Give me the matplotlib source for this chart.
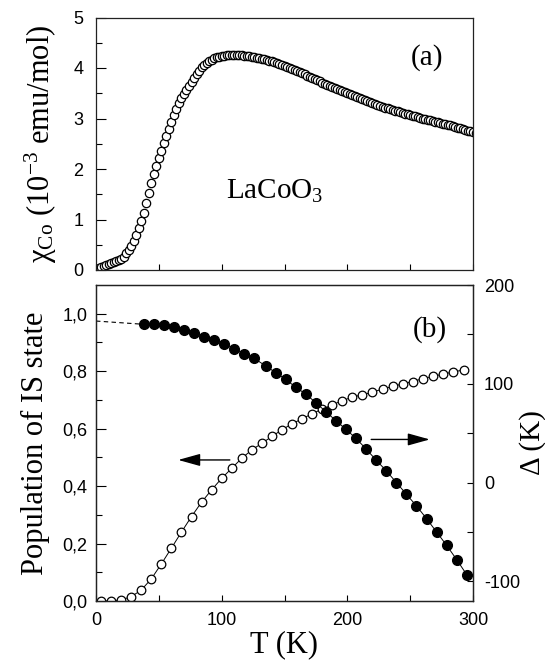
import matplotlib
matplotlib.use("Agg")
import matplotlib.pyplot as plt
from matplotlib.ticker import FixedLocator, FuncFormatter, NullFormatter

plt.rcParams['font.family'] = ['Liberation Sans', 'DejaVu Sans']
plt.rcParams['mathtext.fontset'] = 'custom'
plt.rcParams['mathtext.rm'] = 'Liberation Serif'
plt.rcParams['mathtext.it'] = 'Liberation Serif:italic'
plt.rcParams['axes.unicode_minus'] = False

# ---------------- data ----------------
# panel (a): susceptibility chi_Co (1e-3 emu/mol) vs T (K), measured every 2 K
T_chi = [0, 2, 4, 6, 8, 10, 12, 14, 16, 18, 20, 22, 24, 26, 28, 30, 32, 34, 36, 38,
         40, 42, 44, 46, 48, 50, 52, 54, 56, 58, 60, 62, 64, 66, 68, 70, 72, 74, 76, 78,
         80, 82, 84, 86, 88, 90, 92, 94, 96, 98, 100, 102, 104, 106, 108, 110, 112, 114, 116, 118,
         120, 122, 124, 126, 128, 130, 132, 134, 136, 138, 140, 142, 144, 146, 148, 150, 152, 154, 156, 158,
         160, 162, 164, 166, 168, 170, 172, 174, 176, 178, 180, 182, 184, 186, 188, 190, 192, 194, 196, 198,
         200, 202, 204, 206, 208, 210, 212, 214, 216, 218, 220, 222, 224, 226, 228, 230, 232, 234, 236, 238,
         240, 242, 244, 246, 248, 250, 252, 254, 256, 258, 260, 262, 264, 266, 268, 270, 272, 274, 276, 278,
         280, 282, 284, 286, 288, 290, 292, 294, 296, 298, 300, 302]
chi = [0.01, 0.03, 0.05, 0.07, 0.09, 0.11, 0.13, 0.15, 0.17, 0.19, 0.22, 0.26, 0.33, 0.40, 0.48, 0.57, 0.70, 0.83, 0.97, 1.13,
       1.32, 1.53, 1.72, 1.90, 2.06, 2.21, 2.36, 2.51, 2.66, 2.80, 2.94, 3.07, 3.19, 3.30, 3.40, 3.48, 3.56, 3.64, 3.72, 3.80,
       3.88, 3.95, 4.01, 4.05, 4.09, 4.13, 4.16, 4.19, 4.21, 4.22, 4.23, 4.24, 4.25, 4.255, 4.26, 4.26, 4.26, 4.255, 4.25, 4.245,
       4.24, 4.23, 4.22, 4.21, 4.20, 4.19, 4.18, 4.17, 4.16, 4.145, 4.13, 4.115, 4.10, 4.08, 4.06, 4.04, 4.02, 4.00, 3.98, 3.96,
       3.94, 3.92, 3.90, 3.875, 3.85, 3.825, 3.80, 3.78, 3.76, 3.735, 3.71, 3.685, 3.66, 3.64, 3.62, 3.60, 3.58, 3.56, 3.54, 3.52,
       3.50, 3.48, 3.46, 3.44, 3.42, 3.40, 3.38, 3.36, 3.34, 3.32, 3.30, 3.28, 3.26, 3.245, 3.23, 3.215, 3.20, 3.185, 3.17, 3.155,
       3.14, 3.125, 3.11, 3.095, 3.08, 3.065, 3.05, 3.04, 3.03, 3.015, 3.00, 2.99, 2.98, 2.965, 2.95, 2.94, 2.93, 2.915, 2.90, 2.89,
       2.88, 2.865, 2.85, 2.835, 2.82, 2.805, 2.79, 2.775, 2.76, 2.745, 2.73, 2.72]

# panel (b): population of IS state (left axis)
T_pop = [4, 12, 20, 28, 36, 44, 52, 60, 68, 76, 84, 92, 100, 108, 116, 124, 132, 140, 148, 156,
         164, 172, 180, 188, 196, 204, 212, 220, 228, 236, 244, 252, 260, 268, 276, 284, 293]
pop = [0.0, 0.0, 0.004, 0.015, 0.038, 0.077, 0.129, 0.184, 0.240, 0.294, 0.344, 0.387, 0.427, 0.462, 0.497, 0.526, 0.549, 0.573, 0.596, 0.617,
       0.634, 0.652, 0.668, 0.683, 0.697, 0.710, 0.718, 0.727, 0.738, 0.747, 0.756, 0.764, 0.774, 0.782, 0.790, 0.797, 0.805]

# panel (b): gap Delta (K) (right axis)
T_gap = [38, 46, 54, 62, 70, 78, 86, 94, 102, 110, 118, 126, 135, 143, 151, 159, 167, 175, 183, 191,
         199, 207, 215, 223, 231, 239, 247, 255, 263, 271, 279, 287, 295]
gap = [160.2, 160.5, 159.5, 157.1, 154.4, 151.0, 147.6, 144.2, 140.2, 135.1, 130.1, 125.7, 118.0, 111.3, 104.4, 96.4, 89.5, 80.7, 71.6, 62.5,
       53.7, 44.6, 33.8, 22.6, 11.8, 0.0, -11.9, -23.7, -36.5, -50.1, -63.6, -78.1, -93.3]

# extrapolation (dashed) of Delta to T = 0
T_ext = [0, 38]
gap_ext = [163.5, 160.2]

x_major = [0, 100, 200, 300]
x_minor = [50, 150, 250]
chi_major = [0, 1, 2, 3, 4, 5]
chi_minor = [0.5, 1.5, 2.5, 3.5, 4.5]
pop_major = [0.0, 0.2, 0.4, 0.6, 0.8, 1.0]
pop_minor = [0.1, 0.3, 0.5, 0.7, 0.9]
gap_major = [-100, 0, 100, 200]
gap_minor = [-50, 50, 150]

# ---------------- figure ----------------
W, H = 545, 663
fig = plt.figure(figsize=(W / 100, H / 100), dpi=100)
serif = 'Liberation Serif'
tick_fs = 13
lab_fs = 22
txt_fs = 21

L, R = 96, 473
ax1 = fig.add_axes([L / W, 1 - 270 / H, (R - L) / W, (270 - 17.5) / H])
ax2 = fig.add_axes([L / W, 1 - 601 / H, (R - L) / W, (601 - 285) / H])
ax3 = ax2.twinx()

for ax in (ax1, ax2, ax3):
    for s in ax.spines.values():
        s.set_linewidth(0.9)
        s.set_color('#222222')

# ---- panel (a)
ax1.plot(T_chi, chi, linestyle='none', marker='o', ms=6, mfc='white', mec='black', mew=0.9)
ax1.set_xlim(0, 300)
ax1.set_ylim(0, 5)
ax1.xaxis.set_major_locator(FixedLocator(x_major))
ax1.xaxis.set_minor_locator(FixedLocator(x_minor))
ax1.xaxis.set_major_formatter(NullFormatter())
ax1.yaxis.set_major_locator(FixedLocator(chi_major))
ax1.yaxis.set_minor_locator(FixedLocator(chi_minor))
ax1.tick_params(axis='x', which='both', direction='in', length=4.5, width=0.8, top=False)
ax1.tick_params(axis='y', which='major', direction='in', length=7, width=0.8, right=False,
                labelsize=tick_fs, pad=9)
ax1.tick_params(axis='y', which='minor', direction='in', length=4.5, width=0.8, right=False)
ax1.set_ylabel(r'χ$_{\rm Co}$ (10$^{-3}$ emu/mol)', fontfamily=serif, fontsize=lab_fs, labelpad=10)
ax1.text(263, 4.2, '(a)', fontfamily=serif, fontsize=txt_fs, ha='center', va='center')
ax1.text(142, 1.55, r'LaCoO$_3$', fontfamily=serif, fontsize=txt_fs, ha='center', va='center')

# ---- panel (b)
ax2.plot(T_pop, pop, color='black', lw=0.7, marker='o', ms=6.2, mfc='white', mec='black', mew=0.9)
ax2.set_xlim(0, 300)
ax2.set_ylim(0, 1.1)
ax2.xaxis.set_major_locator(FixedLocator(x_major))
ax2.xaxis.set_minor_locator(FixedLocator(x_minor))
ax2.yaxis.set_major_locator(FixedLocator(pop_major))
ax2.yaxis.set_minor_locator(FixedLocator(pop_minor))
ax2.yaxis.set_major_formatter(FuncFormatter(lambda v, p: f'{v:.1f}'.replace('.', ',')))
ax2.tick_params(axis='x', which='both', direction='in', length=4.5, width=0.8, top=False,
                labelsize=tick_fs, pad=8)
ax2.tick_params(axis='y', which='major', direction='in', length=7, width=0.8,
                labelsize=tick_fs, pad=6)
ax2.tick_params(axis='y', which='minor', direction='in', length=4.5, width=0.8)
ax2.set_xlabel('T (K)', fontfamily=serif, fontsize=lab_fs, labelpad=1)
ax2.set_ylabel('Population of IS state', fontfamily=serif, fontsize=lab_fs, labelpad=9)

ax3.plot(T_ext, gap_ext, color='black', lw=0.8, linestyle=(0, (4, 3)))
ax3.plot(T_gap, gap, color='black', lw=0.7, marker='o', ms=7, mfc='black', mec='black')
ax3.set_ylim(-120, 200)
ax3.yaxis.set_major_locator(FixedLocator(gap_major))
ax3.yaxis.set_minor_locator(FixedLocator(gap_minor))
ax3.tick_params(axis='y', which='major', direction='in', length=4.5, width=0.8,
                labelsize=tick_fs, pad=8)
ax3.tick_params(axis='y', which='minor', direction='in', length=4.5, width=0.8)
ax3.set_ylabel('Δ (K)', fontfamily=serif, fontsize=lab_fs - 1, rotation=90, labelpad=-1)
ax3.text(266, 155, '(b)', fontfamily=serif, fontsize=txt_fs, ha='center', va='center')

arrow = dict(arrowstyle='-|>,head_length=0.9,head_width=0.25', color='black', lw=1.0,
             shrinkA=0, shrinkB=0, mutation_scale=15)
ax2.annotate('', xy=(65.4, 0.491), xytext=(106.5, 0.491), arrowprops=arrow)
ax3.annotate('', xy=(265.6, 43.6), xytext=(219, 43.6), arrowprops=arrow)

fig.savefig('out.png', dpi=100)
